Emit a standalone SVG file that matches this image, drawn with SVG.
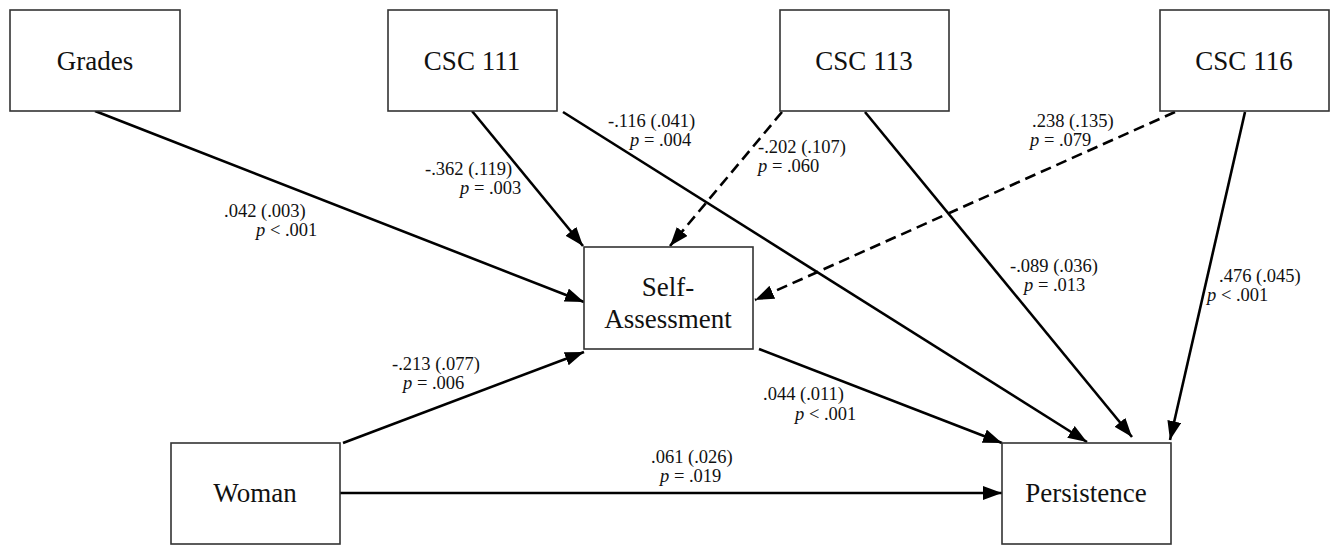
<svg xmlns="http://www.w3.org/2000/svg" width="1330" height="546" viewBox="0 0 1330 546">
<style>
.box{fill:#fff;stroke:#333;stroke-width:1.6}
.nt{font-family:"Liberation Serif","Times New Roman",serif;font-size:27px;fill:#111;text-anchor:middle}
.lb{font-family:"Liberation Serif","Times New Roman",serif;font-size:18.5px;fill:#111}
.e{fill:none;stroke:#000;stroke-width:2.6;marker-end:url(#ah)}
.d{stroke-dasharray:11 6}
</style>
<defs>
<marker id="ah" markerUnits="userSpaceOnUse" markerWidth="22" markerHeight="16" refX="19" refY="7" orient="auto">
<path d="M0,0 L19,7 L0,14 z" fill="#000"/>
</marker>
</defs>
<g id="connectors">
<path class="e" d="M95,111 L584,302"/>
<path class="e" d="M472,111 L583,246"/>
<path class="e" d="M563,112 L1087,442"/>
<path class="e d" d="M782,112 L670,246"/>
<path class="e" d="M865,112 L1132,437"/>
<path class="e d" d="M1175,112 L755,300"/>
<path class="e" d="M1245,112 L1170,440"/>
<path class="e" d="M759,349 L1002,443"/>
<path class="e" d="M343,443 L584,352"/>
<path class="e" d="M340,493 L1002,493"/>
</g>
<g id="labels">
<text class="lb" x="224" y="217">.042 (.003)</text>
<text class="lb" x="256" y="236"><tspan font-style="italic">p</tspan> &lt; .001</text>
<text class="lb" x="425" y="175">-.362 (.119)</text>
<text class="lb" x="460" y="194"><tspan font-style="italic">p</tspan> = .003</text>
<text class="lb" x="608" y="127">-.116 (.041)</text>
<text class="lb" x="630" y="146"><tspan font-style="italic">p</tspan> = .004</text>
<text class="lb" x="758" y="153">-.202 (.107)</text>
<text class="lb" x="758" y="172"><tspan font-style="italic">p</tspan> = .060</text>
<text class="lb" x="1032" y="127">.238 (.135)</text>
<text class="lb" x="1030" y="146"><tspan font-style="italic">p</tspan> = .079</text>
<text class="lb" x="1010" y="272">-.089 (.036)</text>
<text class="lb" x="1024" y="291"><tspan font-style="italic">p</tspan> = .013</text>
<text class="lb" x="1219" y="282">.476 (.045)</text>
<text class="lb" x="1207" y="301"><tspan font-style="italic">p</tspan> &lt; .001</text>
<text class="lb" x="392" y="370">-.213 (.077)</text>
<text class="lb" x="403" y="389"><tspan font-style="italic">p</tspan> = .006</text>
<text class="lb" x="763" y="400">.044 (.011)</text>
<text class="lb" x="795" y="420"><tspan font-style="italic">p</tspan> &lt; .001</text>
<text class="lb" x="651" y="463">.061 (.026)</text>
<text class="lb" x="660" y="482"><tspan font-style="italic">p</tspan> = .019</text>
</g>
<g id="grades"><rect class="box" x="10" y="10" width="170" height="101"/><text class="nt" x="95" y="70">Grades</text></g>
<g id="csc111"><rect class="box" x="388" y="10" width="169" height="101"/><text class="nt" x="472" y="70">CSC 111</text></g>
<g id="csc113"><rect class="box" x="780" y="10" width="169" height="101"/><text class="nt" x="864" y="70">CSC 113</text></g>
<g id="csc116"><rect class="box" x="1160" y="10" width="169" height="101"/><text class="nt" x="1244" y="70">CSC 116</text></g>
<g id="self-assessment"><rect class="box" x="584" y="247" width="169" height="102"/><text class="nt" x="668" y="296">Self-</text><text class="nt" x="668" y="328">Assessment</text></g>
<g id="woman"><rect class="box" x="171" y="443" width="169" height="101"/><text class="nt" x="255" y="502">Woman</text></g>
<g id="persistence"><rect class="box" x="1002" y="443" width="169" height="101"/><text class="nt" x="1086" y="502">Persistence</text></g>
</svg>
